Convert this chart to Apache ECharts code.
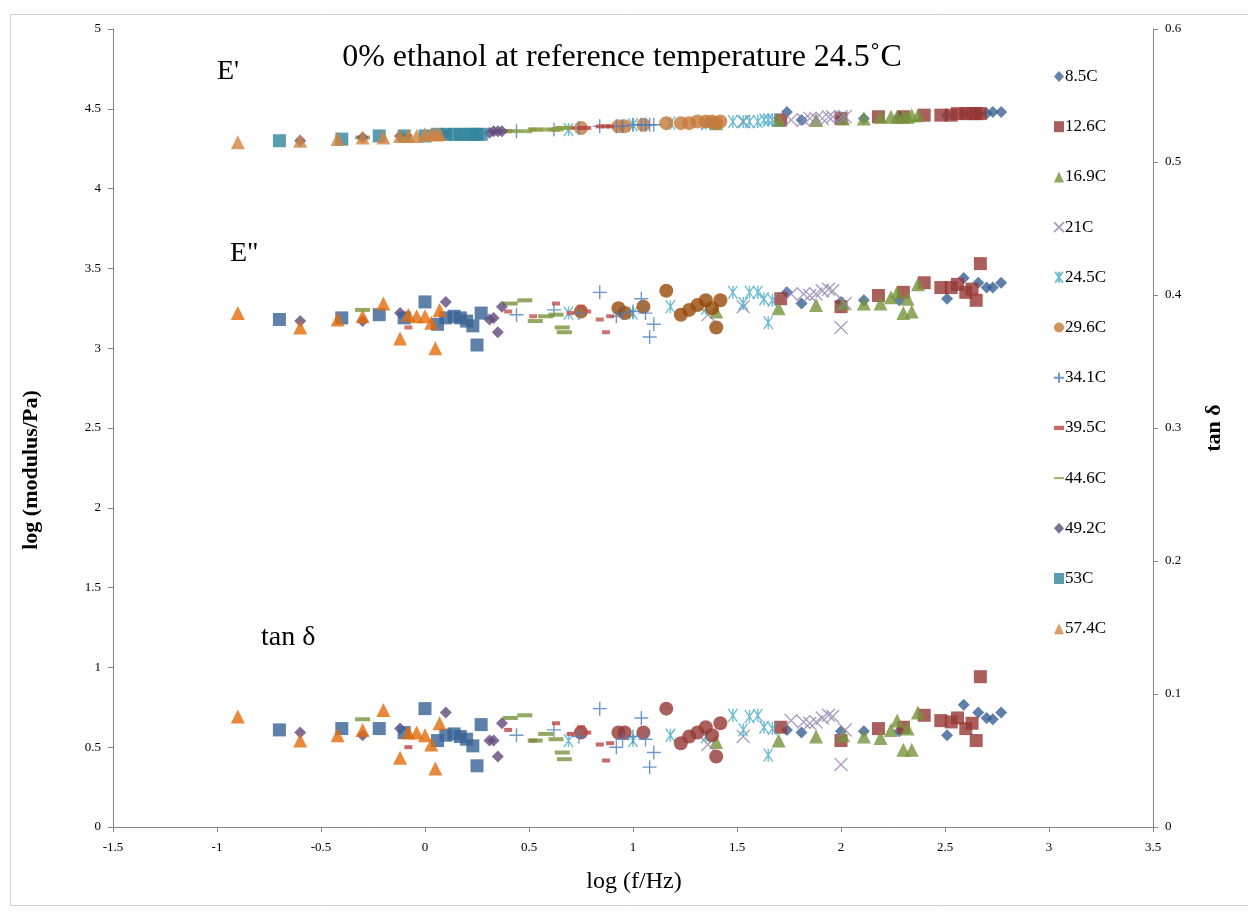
<!DOCTYPE html>
<html>
<head>
<meta charset="utf-8">
<script src="https://cdn.jsdelivr.net/npm/echarts@6/dist/echarts.min.js"></script>
<style>
html,body{margin:0;padding:0;background:#fff;}
#chart{width:1248px;height:912px;}
</style>
</head>
<body>
<div id="chart"></div>
<script>
// ---- data ----
const temps = ['8.5C','12.6C','16.9C','21C','24.5C','29.6C','34.1C','39.5C','44.6C','49.2C','53C','57.4C'];

const x_85  = [1.74,1.81,2.00,2.11,2.28,2.51,2.59,2.66,2.70,2.73,2.77];
const Ep_85 = [4.48,4.43,4.44,4.44,4.45,4.46,4.47,4.47,4.47,4.48,4.48];
const Epp_85= [3.35,3.28,3.29,3.30,3.30,3.31,3.44,3.41,3.38,3.38,3.41];
const tan_85= [0.073,0.071,0.072,0.072,0.072,0.069,0.092,0.086,0.082,0.081,0.086];

const x_126  = [1.71,2.00,2.18,2.30,2.40,2.48,2.53,2.56,2.60,2.63,2.65,2.67];
const Ep_126 = [4.43,4.44,4.45,4.45,4.46,4.46,4.46,4.47,4.47,4.47,4.47,4.47];
const Epp_126= [3.31,3.26,3.33,3.35,3.41,3.38,3.38,3.40,3.35,3.37,3.30,3.53];
const tan_126= [0.075,0.065,0.074,0.075,0.084,0.080,0.079,0.082,0.074,0.078,0.065,0.113];

const x_169  = [1.40,1.70,1.88,2.01,2.11,2.19,2.24,2.27,2.30,2.32,2.34,2.37];
const Ep_169 = [4.41,4.43,4.43,4.44,4.44,4.45,4.45,4.45,4.45,4.45,4.46,4.46];
const Epp_169= [3.23,3.25,3.27,3.28,3.28,3.28,3.32,3.35,3.22,3.31,3.23,3.40];
const tan_169= [0.064,0.065,0.068,0.069,0.068,0.067,0.073,0.080,0.058,0.074,0.058,0.086];

const x_21  = [1.36,1.53,1.76,1.82,1.85,1.88,1.91,1.94,1.96,2.00,2.02];
const Ep_21 = [4.41,4.42,4.43,4.43,4.44,4.44,4.44,4.45,4.45,4.45,4.45];
const Epp_21= [3.21,3.26,3.34,3.34,3.33,3.34,3.36,3.37,3.36,3.13,3.28];
const tan_21= [0.062,0.068,0.080,0.079,0.078,0.079,0.082,0.084,0.083,0.047,0.073];

const x_245  = [0.69,1.00,1.18,1.35,1.48,1.53,1.56,1.60,1.63,1.65,1.67];
const Ep_245 = [4.37,4.40,4.41,4.41,4.42,4.42,4.42,4.42,4.43,4.43,4.43];
const Epp_245= [3.22,3.22,3.26,3.25,3.35,3.28,3.35,3.35,3.31,3.16,3.30];
const tan_245= [0.065,0.065,0.069,0.068,0.084,0.073,0.083,0.084,0.075,0.054,0.074];

const x_296  = [0.75,0.93,0.96,1.05,1.16,1.23,1.27,1.31,1.35,1.38,1.40,1.42];
const Ep_296 = [4.38,4.39,4.39,4.40,4.41,4.41,4.41,4.42,4.42,4.42,4.41,4.42];
const Epp_296= [3.23,3.25,3.22,3.26,3.36,3.21,3.24,3.27,3.30,3.25,3.13,3.30];
const tan_296= [0.071,0.071,0.071,0.071,0.089,0.063,0.068,0.071,0.075,0.069,0.053,0.078];

const x_341  = [0.44,0.62,0.74,0.84,0.92,0.95,1.00,1.04,1.06,1.08,1.10];
const Ep_341 = [4.36,4.37,4.38,4.39,4.39,4.39,4.40,4.40,4.40,4.40,4.40];
const Epp_341= [3.21,3.24,3.22,3.35,3.20,3.22,3.23,3.31,3.22,3.07,3.15];
const tan_341= [0.069,0.073,0.068,0.089,0.060,0.066,0.068,0.082,0.066,0.045,0.056];

const x_395  = [-0.08,0.40,0.52,0.63,0.70,0.75,0.78,0.84,0.87,0.89];
const Ep_395 = [4.33,4.36,4.37,4.37,4.38,4.38,4.38,4.39,4.39,4.39];
const Epp_395= [3.13,3.23,3.20,3.28,3.22,3.26,3.23,3.18,3.10,3.20];
const tan_395= [0.060,0.073,0.065,0.078,0.070,0.075,0.071,0.062,0.050,0.063];

const x_446  = [-0.30,0.41,0.48,0.53,0.58,0.63,0.66,0.67];
const Ep_446 = [4.32,4.36,4.36,4.37,4.37,4.37,4.38,4.38];
const Epp_446= [3.24,3.28,3.30,3.17,3.20,3.21,3.13,3.10];
const tan_446= [0.081,0.082,0.084,0.065,0.070,0.066,0.056,0.051];

const x_492  = [-0.60,-0.30,-0.12,0.10,0.31,0.33,0.35,0.37];
const Ep_492 = [4.30,4.32,4.33,4.34,4.35,4.36,4.36,4.36];
const Epp_492= [3.17,3.17,3.22,3.29,3.18,3.19,3.10,3.26];
const tan_492= [0.071,0.069,0.074,0.086,0.065,0.065,0.053,0.078];

const x_53  = [-0.70,-0.40,-0.22,-0.10,0.00,0.06,0.10,0.14,0.17,0.20,0.23,0.25,0.27];
const Ep_53 = [4.30,4.31,4.33,4.33,4.33,4.34,4.34,4.34,4.34,4.34,4.34,4.34,4.34];
const Epp_53= [3.18,3.19,3.21,3.19,3.29,3.15,3.19,3.20,3.19,3.17,3.14,3.02,3.22];
const tan_53= [0.073,0.074,0.074,0.071,0.089,0.065,0.069,0.070,0.068,0.066,0.061,0.046,0.077];

const x_574  = [-0.90,-0.60,-0.42,-0.30,-0.20,-0.12,-0.08,-0.04,0.00,0.03,0.05,0.07];
const Ep_574 = [4.29,4.30,4.31,4.32,4.32,4.33,4.33,4.33,4.34,4.34,4.34,4.34];
const Epp_574= [3.22,3.13,3.18,3.20,3.28,3.06,3.21,3.20,3.20,3.16,3.00,3.24];
const tan_574= [0.083,0.065,0.069,0.073,0.088,0.052,0.071,0.071,0.069,0.062,0.044,0.078];

// ---- styling ----
const SX = 'path://M0,0L10,10M10,0L0,10';
const SPLUS = 'path://M5,0L5,10M0,5L10,5';
const SAST = 'path://M1.5,0L8.5,10M8.5,0L1.5,10M5,0L5,10';
const ISHORT = 'path://M0,4L7,4L7,7L0,7Z';
const ILONG = 'path://M0,4L12,4L12,6.5L0,6.5Z';

const defs = [
  {x:x_85, ep:Ep_85, epp:Epp_85, tan:tan_85, sym:'diamond', size:12, c1:'#3a6497', c2:'#376092', c3:'#376092'},
  {x:x_126,ep:Ep_126,epp:Epp_126,tan:tan_126,sym:'rect', size:13, c1:'#953735', c2:'#953735', c3:'#953735'},
  {x:x_169,ep:Ep_169,epp:Epp_169,tan:tan_169,sym:'triangle', size:14, c1:'#77933c', c2:'#77933c', c3:'#77933c'},
  {x:x_21, ep:Ep_21, epp:Epp_21, tan:tan_21, sym:SX, size:13, c1:'#9787b4', c2:'#9787b4', c3:'#9787b4', line:true},
  {x:x_245,ep:Ep_245,epp:Epp_245,tan:tan_245,sym:SAST, size:13, c1:'#4bacc6', c2:'#4bacc6', c3:'#4bacc6', line:true},
  {x:x_296,ep:Ep_296,epp:Epp_296,tan:tan_296,sym:'circle', size:14, c1:'#c6793a', c2:'#984807', c3:'#953735'},
  {x:x_341,ep:Ep_341,epp:Epp_341,tan:tan_341,sym:SPLUS, size:14, c1:'#4a7ebb', c2:'#4a7ebb', c3:'#4a7ebb', line:true},
  {x:x_395,ep:Ep_395,epp:Epp_395,tan:tan_395,sym:'rect', size:[8,4], icon:ISHORT, c1:'#b84441', c2:'#c0504d', c3:'#b84441'},
  {x:x_446,ep:Ep_446,epp:Epp_446,tan:tan_446,sym:'rect', size:[15,4], icon:ILONG, c1:'#86a346', c2:'#77933c', c3:'#77933c'},
  {x:x_492,ep:Ep_492,epp:Epp_492,tan:tan_492,sym:'diamond', size:12, c1:'#604a7b', c2:'#604a7b', c3:'#604a7b'},
  {x:x_53, ep:Ep_53, epp:Epp_53, tan:tan_53, sym:'rect', size:13, c1:'#31859c', c2:'#376092', c3:'#376092'},
  {x:x_574,ep:Ep_574,epp:Epp_574,tan:tan_574,sym:'triangle', size:14, c1:'#d2843f', c2:'#e46c0a', c3:'#e46c0a'}
];

function pts(xs, ys){ return xs.map((v,i)=>[v, ys[i]]); }
function mk(name, d, ys, color, yIdx){
  const st = d.line ? {color:'rgba(0,0,0,0)', borderColor:color, borderWidth:1.4}
                    : {color:color, borderWidth:0};
  return {
    name:name, type:'scatter', yAxisIndex:yIdx, xAxisIndex:0,
    data:pts(d.x, ys), symbol:d.sym, symbolSize:d.size, symbolKeepAspect:true,
    itemStyle:st, emphasis:{disabled:true}, silent:true, z:2
  };
}
const series = [];
defs.forEach((d,i)=>{
  series.push(mk(temps[i]+" E''", d, d.epp, d.c2, 0));
  series.push(mk(temps[i]+' tan', d, d.tan, d.c3, 1));
});
defs.forEach((d,i)=>{ series.push(mk(temps[i], d, d.ep, d.c1, 0)); });

const legendData = temps.map((t,i)=> defs[i].icon ? {name:t, icon:defs[i].icon} : {name:t});

const serif = '"Liberation Serif","Times New Roman",serif';
const axisLineStyle = {color:'#868686', width:1};
const lbl = {fontFamily:serif, fontSize:13, color:'#000', formatter:v=>String(v)};

const chart = echarts.init(document.getElementById('chart'), null, {renderer:'canvas'});
chart.setOption({
  animation:false,
  backgroundColor:'#fff',
  grid:{left:113, right:95, top:29, bottom:85, containLabel:false},
  legend:{
    data:legendData, orient:'vertical', left:1048, top:63, itemGap:33.2,
    itemWidth:10, itemHeight:11, itemSymbolKeepAspect:true,
    textStyle:{fontFamily:serif, fontSize:17, color:'#000', padding:[0,0,0,-4]},
    selectedMode:false
  },
  xAxis:{
    type:'value', min:-1.5, max:3.5, interval:0.5,
    axisLine:{show:true, onZero:false, lineStyle:axisLineStyle},
    axisTick:{show:true, length:5, lineStyle:axisLineStyle},
    splitLine:{show:false},
    axisLabel:Object.assign({margin:14}, lbl)
  },
  yAxis:[
    {type:'value', min:0, max:5, interval:0.5, position:'left',
     axisLine:{show:true, onZero:false, lineStyle:axisLineStyle},
     axisTick:{show:true, length:5, lineStyle:axisLineStyle},
     splitLine:{show:false},
     axisLabel:Object.assign({margin:12}, lbl)},
    {type:'value', min:0, max:0.6, interval:0.1, position:'right',
     axisLine:{show:true, onZero:false, lineStyle:axisLineStyle},
     axisTick:{show:true, length:5, lineStyle:axisLineStyle},
     splitLine:{show:false},
     axisLabel:Object.assign({margin:12}, lbl)}
  ],
  graphic:[
    {type:'rect', shape:{x:10.5, y:14.5, width:1240, height:891}, style:{fill:'none', stroke:'#d0d0d0', lineWidth:1}, silent:true, z:-1},
    {type:'text', x:622, y:58, style:{text:'0% ethanol at reference temperature 24.5˚C', font:'32px '+serif, fill:'#000', align:'center', verticalAlign:'middle'}},
    {type:'text', x:217, y:72, style:{text:"E'", font:'28px '+serif, fill:'#000', align:'left', verticalAlign:'middle'}},
    {type:'text', x:230, y:254, style:{text:'E"', font:'28px '+serif, fill:'#000', align:'left', verticalAlign:'middle'}},
    {type:'text', x:261, y:638, style:{text:'tan δ', font:'28px '+serif, fill:'#000', align:'left', verticalAlign:'middle'}},
    {type:'text', x:634, y:882, style:{text:'log (f/Hz)', font:'24px '+serif, fill:'#000', align:'center', verticalAlign:'middle'}},
    {type:'text', x:31, y:470, rotation:Math.PI/2, style:{text:'log (modulus/Pa)', font:'bold 22px '+serif, fill:'#000', align:'center', verticalAlign:'middle'}},
    {type:'text', x:1214, y:428, rotation:Math.PI/2, style:{text:'tan δ', font:'bold 22px '+serif, fill:'#000', align:'center', verticalAlign:'middle'}}
  ],
  series:series
});
</script>
</body>
</html>
